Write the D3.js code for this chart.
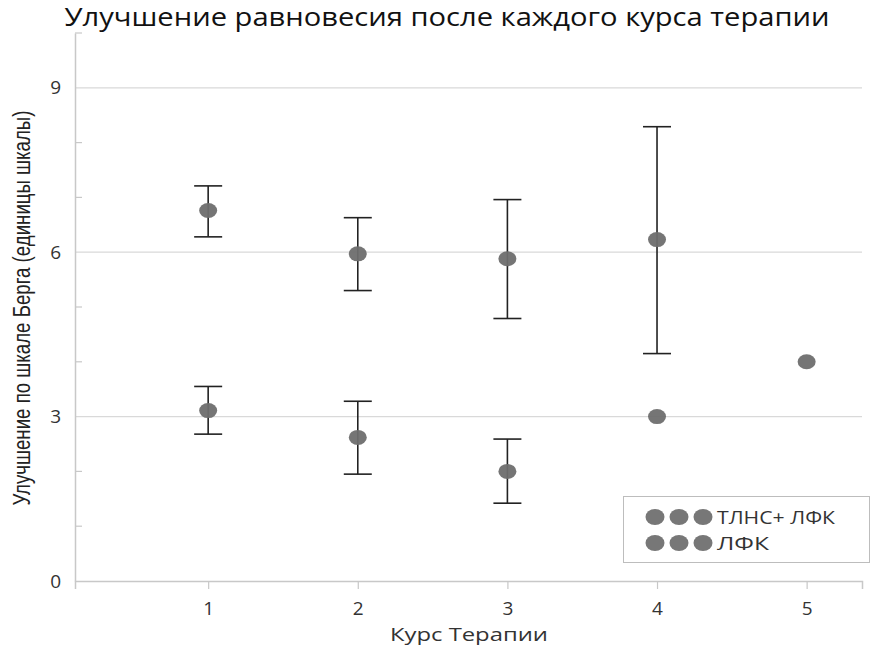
<!DOCTYPE html>
<html><head><meta charset="utf-8">
<script src="https://cdn.jsdelivr.net/npm/d3@7"></script>
<style>body{margin:0;background:#fff}</style>
</head><body>
<svg id="c" width="878" height="649"></svg>
<script>
const courses = [1, 2, 3, 4, 5];
const seriesNames = ["ТЛНС+ ЛФК", "ЛФК"];
// ТЛНС+ ЛФК
const combMean = [6.76, 5.97, 5.88, 6.23, 4.0];
const combHigh = [7.21, 6.63, 6.96, 8.29, null];
const combLow  = [6.28, 5.30, 4.79, 4.15, null];
// ЛФК
const lfkCourses = [1, 2, 3, 4];
const lfkMean = [3.11, 2.62, 2.00, 3.00];
const lfkHigh = [3.55, 3.28, 2.59, null];
const lfkLow  = [2.68, 1.95, 1.42, null];
const yTicks = [0, 3, 6, 9];
const yMinor = [1, 2, 4, 5, 7, 8, 10];

const svg = d3.select("#c");
const font = "'Open Sans', 'Noto Sans', sans-serif";
const pLeft = 75, pRight = 862, pTop = 33, pBottom = 581;
const x = d3.scaleLinear().domain([0.11, 5.37]).range([pLeft, pRight]);
const y = d3.scaleLinear().domain([0, 10]).range([pBottom, pTop]);

// gridlines
svg.append("g").selectAll("line").data(yTicks.filter(d => d > 0)).join("line")
  .attr("x1", pLeft).attr("x2", pRight).attr("y1", d => y(d)).attr("y2", d => y(d))
  .attr("stroke", "#d9d9d9").attr("stroke-width", 1.3);

// y axis
const ya = svg.append("g").attr("transform", `translate(${pLeft},0)`)
  .call(d3.axisLeft(y).tickValues(yTicks).tickSize(0).tickPadding(14).tickFormat(d3.format("d")));
ya.select(".domain").attr("stroke", "#c8c8c8").attr("stroke-width", 1.5);
ya.selectAll("text").attr("font-family", font).attr("font-size", 19).attr("fill", "#333");
svg.append("g").selectAll("line").data(yMinor).join("line")
  .attr("x1", pLeft).attr("x2", pLeft + 7).attr("y1", d => y(d)).attr("y2", d => y(d))
  .attr("stroke", "#c8c8c8").attr("stroke-width", 1.2);

// x axis
const xa = svg.append("g").attr("transform", `translate(0,${pBottom})`)
  .call(d3.axisBottom(x).tickValues(courses).tickSize(8).tickPadding(13).tickFormat(d3.format("d")));
xa.select(".domain").attr("stroke", "#c8c8c8").attr("stroke-width", 1.5);
xa.selectAll(".tick line").attr("stroke", "#c8c8c8").attr("stroke-width", 1.2);
xa.selectAll("text").attr("font-family", font).attr("font-size", 19).attr("fill", "#333");

// error bars
function errBars(xs, hi, lo) {
  const d = xs.map((c, i) => ({c, h: hi[i], l: lo[i]})).filter(e => e.h != null);
  const g = svg.append("g").attr("stroke", "#222").attr("stroke-width", 1.6);
  g.selectAll(".v").data(d).join("line").attr("class", "v")
    .attr("x1", e => x(e.c)).attr("x2", e => x(e.c)).attr("y1", e => y(e.h)).attr("y2", e => y(e.l));
  g.selectAll(".t").data(d).join("line").attr("class", "t")
    .attr("x1", e => x(e.c) - 14).attr("x2", e => x(e.c) + 14).attr("y1", e => y(e.h)).attr("y2", e => y(e.h));
  g.selectAll(".b").data(d).join("line").attr("class", "b")
    .attr("x1", e => x(e.c) - 14).attr("x2", e => x(e.c) + 14).attr("y1", e => y(e.l)).attr("y2", e => y(e.l));
}
errBars(courses, combHigh, combLow);
errBars(lfkCourses, lfkHigh, lfkLow);

// points
function pts(xs, m) {
  svg.append("g").selectAll("ellipse").data(xs.map((c, i) => ({c, v: m[i]}))).join("ellipse")
    .attr("cx", e => x(e.c)).attr("cy", e => y(e.v)).attr("rx", 9).attr("ry", 7.5)
    .attr("fill", "#6e6e6e").attr("opacity", 0.95);
}
pts(courses, combMean);
pts(lfkCourses, lfkMean);

// legend
const lg = svg.append("g");
lg.append("rect").attr("x", 623.5).attr("y", 496.5).attr("width", 246).attr("height", 66)
  .attr("fill", "#fff").attr("stroke", "#bdbdbd").attr("stroke-width", 1);
seriesNames.forEach((n, i) => {
  const cy = 517 + i * 26;
  [0, 1, 2].forEach(k => lg.append("ellipse").attr("cx", 655 + k * 24).attr("cy", cy)
    .attr("rx", 9.5).attr("ry", 8).attr("fill", "#777"));
  lg.append("text").attr("x", 717).attr("y", cy + 6.5).text(n)
    .attr("font-family", font).attr("font-size", 18.5).attr("fill", "#333")
    .attr("textLength", i === 0 ? 118 : 52).attr("lengthAdjust", "spacingAndGlyphs");
});

// title
svg.append("text").attr("x", 447).attr("y", 26).attr("text-anchor", "middle")
  .attr("font-family", font).attr("font-size", 25).attr("fill", "#111")
  .attr("textLength", 765).attr("lengthAdjust", "spacingAndGlyphs")
  .text("Улучшение равновесия после каждого курса терапии");

// axis titles
svg.append("text").attr("x", 469).attr("y", 641).attr("text-anchor", "middle")
  .attr("font-family", font).attr("font-size", 19).attr("fill", "#333")
  .attr("textLength", 158).attr("lengthAdjust", "spacingAndGlyphs").text("Курс Терапии");
svg.append("text").attr("transform", "translate(30,308) rotate(-90)").attr("text-anchor", "middle")
  .attr("font-family", "'Liberation Sans Narrow', 'Liberation Sans', sans-serif").attr("font-size", 23)
  .attr("fill", "#222").attr("textLength", 395).attr("lengthAdjust", "spacingAndGlyphs")
  .text("Улучшение по шкале Берга (единицы шкалы)");
</script>
</body></html>
